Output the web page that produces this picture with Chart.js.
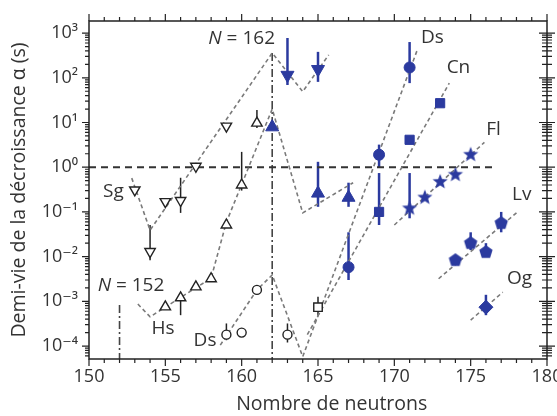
<!DOCTYPE html>
<html><head><meta charset="utf-8">
<script src="https://cdn.jsdelivr.net/npm/chart.js@4.4.0/dist/chart.umd.min.js"></script>
<style>html,body{margin:0;padding:0;background:#fff;}#wrap{width:557px;height:416px;position:relative;}</style>
</head><body><div id="wrap"><canvas id="c"></canvas></div>
<script>
// ---------- data (neutron number N, half-life in s) ----------
const sgN = [153, 154, 155, 156, 157, 159];
const sgT = [0.31, 0.013, 0.17, 0.18, 1.05, 8.3];
const hsN = [155, 156, 157, 158, 159, 160, 161];
const hsT = [7.5e-4, 1.2e-3, 2.1e-3, 3.2e-3, 0.051, 0.40, 9.7];
const dsOpenN = [159, 160, 161, 163];
const dsOpenT = [1.8e-4, 2.0e-4, 1.8e-3, 1.8e-4];
const sqOpenN = [165];
const sqOpenT = [7.4e-4];
const sgBlueN = [163, 165];
const sgBlueT = [115, 155];
const hsBlueN = [162, 165, 167];
const hsBlueT = [7.9, 0.26, 0.21];
const dsBlueN = [167, 169, 171];
const dsBlueT = [5.8e-3, 1.9, 170];
const cnN = [169, 171, 173];
const cnT = [0.10, 4.1, 27];
const flN = [171, 172, 173, 174, 175];
const flT = [0.12, 0.21, 0.47, 0.68, 1.9];
const lvN = [174, 175, 176, 177];
const lvT = [8.3e-3, 0.020, 0.0126, 0.056];
const ogN = [176];
const ogT = [7.4e-4];

// trend lines
const sgLineN = [152.8, 154, 162, 164, 165.7];
const sgLineT = [0.57, 0.039, 359, 49, 325];
const hsLineN = [153.2, 154, 158, 159, 162, 164, 167.3];
const hsLineT = [8.7e-4, 4.5e-4, 3.3e-3, 0.059, 20, 0.095, 0.45];
const dsLineN = [158.6, 161, 162, 164, 171.5];
const dsLineT = [1.05e-4, 1.8e-3, 3.9e-3, 5.8e-5, 417];
const cnLineN = [164.3, 173.6];
const cnLineT = [1.8e-4, 76];
const flLineN = [170.0, 175.9];
const flLineT = [0.051, 3.6];
const lvLineN = [172.9, 178.0];
const lvLineT = [3.2e-3, 0.095];
const ogLineN = [175.0, 177.1];
const ogLineT = [3.8e-4, 1.6e-3];

// reference lines
const oneLineN = [150, 176.6];
const oneLineT = [1, 1];
const n162N = [162, 162];
const n162T = [359, 5.13e-5];
const n152N = [152, 152];
const n152T = [8.3e-4, 5.13e-5];

// error bars
const errOpenN  = [154, 156, 156, 160, 161, 159, 163, 165];
const errOpenLo = [8.3e-3, 0.095, 4.9e-4, 0.30, 7.5, 1.35e-4, 1.2e-4, 4.9e-4];
const errOpenHi = [0.051, 0.58, 1.2e-3, 2.2, 19, 3.2e-4, 3.2e-4, 1.26e-3];
const errBlueN  = [163, 165, 165, 167, 167, 169, 171, 169, 171, 175, 176, 177, 176];
const errBlueLo = [69, 81, 0.13, 0.13, 3.0e-3, 1.0, 76, 0.051, 0.072, 0.014, 0.010, 0.035, 4.9e-4];
const errBlueHi = [776, 380, 1.32, 0.45, 0.035, 3.2, 630, 0.74, 0.74, 0.035, 0.020, 0.10, 1.4e-3];

// axes
const xTicks = [150, 155, 160, 165, 170, 175, 180];
const yTicks = [1e-4, 1e-3, 1e-2, 1e-1, 1, 10, 100, 1000];
const yTickLabels = ['10⁻⁴', '10⁻³', '10⁻²', '10⁻¹', '10⁰', '10¹', '10²', '10³'];
const xTitle = 'Nombre de neutrons';
const yTitle = 'Demi-vie de la décroissance α (s)';

// annotations
const labelText = ['Sg', 'Hs', 'Ds', 'Ds', 'Cn', 'Fl', 'Lv', 'Og'];
const labelN    = [151.6, 154.85, 157.6, 172.5, 174.2, 176.5, 178.35, 178.2];
const labelT    = [0.29, 2.4e-4, 1.35e-4, 780, 166, 6.8, 0.24, 3.3e-3];
const magicText = ['162', '152'];
const magicN    = [160.0, 152.75];
const magicT    = [740, 2.3e-3];

const YMIN = 5.13e-5, YMAX = 1862;
const BLUE = '#2b3a9f';
const INK = '#222';
const FONT = "'Open Sans', 'DejaVu Sans', sans-serif";

function pts(N, T) { return N.map((n, i) => ({x: n, y: T[i]})); }
function makeCanvas(size, draw) {
  const c = document.createElement('canvas');
  c.width = size; c.height = size;
  const g = c.getContext('2d');
  g.translate(size / 2, size / 2);
  g.fillStyle = BLUE;
  draw(g);
  return c;
}
const starImg = makeCanvas(18, g => {
  g.beginPath();
  for (let i = 0; i < 10; i++) {
    const r = i % 2 ? 3.4 : 8;
    const a = -Math.PI / 2 + i * Math.PI / 5;
    g.lineTo(r * Math.cos(a), r * Math.sin(a));
  }
  g.closePath(); g.fill();
});
const pentImg = makeCanvas(16, g => {
  g.beginPath();
  for (let i = 0; i < 5; i++) {
    const a = -Math.PI / 2 + i * 2 * Math.PI / 5;
    g.lineTo(7 * Math.cos(a), 7 * Math.sin(a));
  }
  g.closePath(); g.fill();
});

function marker(N, T, style, r, filled, rot) {
  return {
    data: pts(N, T), pointStyle: style, pointRadius: r, rotation: rot || 0,
    backgroundColor: filled ? BLUE : '#fff',
    borderColor: filled ? BLUE : INK,
    borderWidth: filled ? 1 : 1.4,
    showLine: false, order: 1
  };
}
function trend(N, T, color, dash, w) {
  return {
    data: pts(N, T), showLine: true, pointRadius: 0, borderColor: color,
    borderDash: dash, borderWidth: w, fill: false, tension: 0, order: 5
  };
}

const GRAYDASH = [4, 3];
const datasets = [
  marker(sgN, sgT, 'triangle', 6, false, 180),
  marker(hsN, hsT, 'triangle', 6, false, 0),
  marker(dsOpenN, dsOpenT, 'circle', 4.5, false, 0),
  marker(sqOpenN, sqOpenT, 'rect', 6, false, 0),
  marker(sgBlueN, sgBlueT, 'triangle', 7.5, true, 180),
  marker(hsBlueN, hsBlueT, 'triangle', 7.5, true, 0),
  marker(dsBlueN, dsBlueT, 'circle', 5.5, true, 0),
  marker(cnN, cnT, 'rect', 6.5, true, 0),
  marker(flN, flT, starImg, 8, true, 0),
  marker(lvN, lvT, pentImg, 7, true, 0),
  marker(ogN, ogT, 'rectRot', 7, true, 0),
  trend(sgLineN, sgLineT, '#7a7a7a', GRAYDASH, 1.6),
  trend(hsLineN, hsLineT, '#7a7a7a', GRAYDASH, 1.6),
  trend(dsLineN, dsLineT, '#7a7a7a', GRAYDASH, 1.6),
  trend(cnLineN, cnLineT, '#7a7a7a', GRAYDASH, 1.6),
  trend(flLineN, flLineT, '#7a7a7a', GRAYDASH, 1.6),
  trend(lvLineN, lvLineT, '#7a7a7a', GRAYDASH, 1.6),
  trend(ogLineN, ogLineT, '#7a7a7a', GRAYDASH, 1.6),
  trend(oneLineN, oneLineT, '#333', [7, 5], 2),
  trend(n162N, n162T, '#444', [8, 3, 2, 3], 1.6),
  trend(n152N, n152T, '#444', [8, 3, 2, 3], 1.6)
];

const errorBars = {
  id: 'errorBars',
  beforeDatasetsDraw(chart) {
    const {ctx, scales: {x, y}} = chart;
    ctx.save();
    ctx.lineCap = 'butt';
    const draw = (N, lo, hi, color, w) => {
      ctx.strokeStyle = color; ctx.lineWidth = w;
      N.forEach((n, i) => {
        const px = x.getPixelForValue(n);
        ctx.beginPath();
        ctx.moveTo(px, y.getPixelForValue(lo[i]));
        ctx.lineTo(px, y.getPixelForValue(hi[i]));
        ctx.stroke();
      });
    };
    draw(errOpenN, errOpenLo, errOpenHi, INK, 1.5);
    draw(errBlueN, errBlueLo, errBlueHi, BLUE, 2.5);
    ctx.restore();
  }
};

const frame = {
  id: 'frame',
  afterDraw(chart) {
    const {ctx, chartArea: a, scales: {x, y}} = chart;
    ctx.save();
    ctx.strokeStyle = INK;
    ctx.lineWidth = 1.5;
    ctx.strokeRect(a.left, a.top, a.right - a.left, a.bottom - a.top);
    ctx.lineWidth = 1.2;
    ctx.beginPath();
    for (let n = 150; n <= 180; n++) {
      const px = x.getPixelForValue(n);
      const len = n % 5 === 0 ? 7 : 4;
      ctx.moveTo(px, a.bottom); ctx.lineTo(px, a.bottom + len);
      ctx.moveTo(px, a.top); ctx.lineTo(px, a.top - len);
    }
    for (let e = -5; e <= 3; e++) {
      for (let m = 1; m <= 9; m++) {
        const v = m * Math.pow(10, e);
        if (v < YMIN || v > YMAX) continue;
        const py = y.getPixelForValue(v);
        const len = m === 1 ? 7 : 4;
        ctx.moveTo(a.left - len, py); ctx.lineTo(a.left, py);
        const rl = m === 1 ? 8 : 5;
        ctx.moveTo(a.right - rl, py); ctx.lineTo(a.right + rl, py);
      }
    }
    ctx.stroke();
    // x-axis title
    ctx.fillStyle = '#333';
    ctx.textAlign = 'center';
    ctx.textBaseline = 'middle';
    ctx.font = '19.5px ' + FONT;
    ctx.fillText(xTitle, x.getPixelForValue(165.9), a.bottom + 45);
    // annotations
    ctx.font = '19px ' + FONT;
    labelText.forEach((t, i) => {
      ctx.fillText(t, x.getPixelForValue(labelN[i]), y.getPixelForValue(labelT[i]));
    });
    magicText.forEach((t, i) => {
      const cx = x.getPixelForValue(magicN[i]);
      const cy = y.getPixelForValue(magicT[i]);
      ctx.font = 'italic 19px ' + FONT;
      const wN = ctx.measureText('N').width;
      ctx.font = '19px ' + FONT;
      const rest = ' = ' + t;
      const wR = ctx.measureText(rest).width;
      const x0 = cx - (wN + wR) / 2;
      ctx.textAlign = 'left';
      ctx.font = 'italic 19px ' + FONT;
      ctx.fillText('N', x0, cy);
      ctx.font = '19px ' + FONT;
      ctx.fillText(rest, x0 + wN, cy);
      ctx.textAlign = 'center';
    });
    ctx.restore();
  }
};

new Chart(document.getElementById('c'), {
  type: 'scatter',
  data: {datasets},
  options: {
    responsive: true, maintainAspectRatio: false, animation: false,
    layout: {padding: {top: 21, right: 10, left: 0, bottom: 0}},
    plugins: {legend: {display: false}, tooltip: {enabled: false}},
    scales: {
      x: {
        type: 'linear', min: 150, max: 180,
        afterBuildTicks: s => { s.ticks = xTicks.map(v => ({value: v})); },
        afterFit: s => { s.height = 57; s.paddingLeft = 0; s.paddingRight = 0; },
        grid: {display: false, drawTicks: false},
        border: {display: false},
        ticks: {color: '#333', font: {family: FONT, size: 18}, padding: 7, autoSkip: false, maxRotation: 0,
                callback: v => String(v)},
        title: {display: false, text: xTitle}
      },
      y: {
        type: 'logarithmic', min: YMIN, max: YMAX,
        afterBuildTicks: s => { s.ticks = yTicks.map(v => ({value: v})); },
        afterFit: s => { s.width = 89; s.paddingTop = 0; s.paddingBottom = 0; },
        grid: {display: false, drawTicks: false},
        border: {display: false},
        ticks: {color: '#333', font: {family: FONT, size: 18}, padding: 11, autoSkip: false,
                callback: (v) => { const i = yTicks.findIndex(t => Math.abs(t - v) / t < 1e-6); return i >= 0 ? yTickLabels[i] : ''; }},
        title: {display: true, text: yTitle, color: '#333', font: {family: FONT, size: 19.5}, padding: {top: 8, bottom: 0}}
      }
    }
  },
  plugins: [errorBars, frame]
});
</script></body></html>
